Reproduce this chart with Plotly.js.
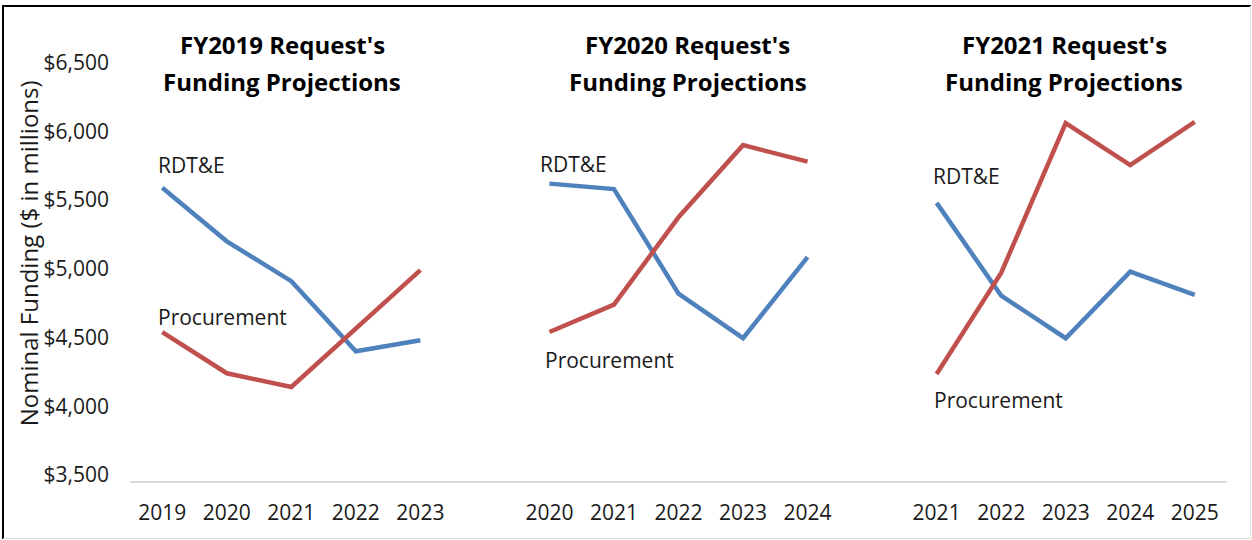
<!DOCTYPE html>
<html>
<head>
<meta charset="utf-8">
<script src="https://cdn.plot.ly/plotly-3.0.1.min.js"></script>
<style>
  html, body { margin: 0; padding: 0; background: #ffffff; }
  #chart { width: 1252px; height: 540px; }
</style>
</head>
<body>
<div id="chart"></div>
<script>
// ---- Data ----
const panelTitles = ["FY2019 Request's", "FY2020 Request's", "FY2021 Request's"];
const panelSubtitle = "Funding Projections";

const years2019 = ["2019", "2020", "2021", "2022", "2023"];
const years2020 = ["2020", "2021", "2022", "2023", "2024"];
const years2021 = ["2021", "2022", "2023", "2024", "2025"];

const rdte2019 = [5590, 5200, 4910, 4400, 4480];
const proc2019 = [4540, 4240, 4140, 4570, 4990];

const rdte2020 = [5620, 5580, 4820, 4495, 5085];
const proc2020 = [4540, 4740, 5375, 5900, 5780];

const rdte2021 = [5480, 4805, 4495, 4980, 4810];
const proc2021 = [4235, 4970, 6060, 5755, 6070];

const yTicks = [3500, 4000, 4500, 5000, 5500, 6000, 6500];
const yTickLabels = ["$3,500", "$4,000", "$4,500", "$5,000", "$5,500", "$6,000", "$6,500"];

const seriesNames = ["RDT&E", "Procurement"];
const yAxisTitle = "Nominal Funding ($ in millions)";

// ---- Build ----
const panels = [
  { years: years2019, rdte: rdte2019, proc: proc2019 },
  { years: years2020, rdte: rdte2020, proc: proc2020 },
  { years: years2021, rdte: rdte2021, proc: proc2021 }
];

const BLUE = "#4f81bd";
const RED = "#c0504d";
const TXT = "#1a1a1a";
const FONT = "Open Sans, Liberation Sans, sans-serif";
const SLOT = 6; // 5 categories + 1 blank slot between panels

const traces = [];
const tickvals = [];
const ticktext = [];
panels.forEach((p, k) => {
  const xs = p.years.map((_, i) => k * SLOT + i);
  xs.forEach((x, i) => { tickvals.push(x); ticktext.push(p.years[i]); });
  traces.push({
    type: "scatter", mode: "lines", x: xs, y: p.rdte, name: seriesNames[0],
    line: { color: BLUE, width: 4.5 }, showlegend: false, hoverinfo: "x+y"
  });
  traces.push({
    type: "scatter", mode: "lines", x: xs, y: p.proc, name: seriesNames[1],
    line: { color: RED, width: 4.5 }, showlegend: false, hoverinfo: "x+y"
  });
});

// layout geometry (pixels)
const W = 1252, H = 540;
const M = { l: 130, r: 25, t: 62, b: 59 };
const PW = W - M.l - M.r, PH = H - M.t - M.b;
const px = v => (v - M.l) / PW;          // pixel x -> paper
const py = v => (H - M.b - v) / PH;      // pixel y -> paper

const annotations = [];
// panel titles (two lines each)
const titleCenters = [1.86, 8.14, 13.98];
panelTitles.forEach((t, k) => {
  annotations.push({
    text: "<b>" + t + "</b>", xref: "x", yref: "paper", x: titleCenters[k], y: py(45),
    xanchor: "center", yanchor: "middle", showarrow: false,
    font: { family: FONT, size: 24, color: "#000000" }
  });
  annotations.push({
    text: "<b>" + panelSubtitle + "</b>", xref: "x", yref: "paper", x: titleCenters[k], y: py(81.7),
    xanchor: "center", yanchor: "middle", showarrow: false,
    font: { family: FONT, size: 24, color: "#000000" }
  });
});

// series labels
const labelPos = [
  { rx: -0.09, ry: 5756, qx: -0.10, qy: 4652 },
  { rx: 5.83, ry: 5761, qx: 5.90, qy: 4337 },
  { rx: 11.91, ry: 5676, qx: 11.93, qy: 4046 }
];
labelPos.forEach(lp => {
  annotations.push({
    text: seriesNames[0], x: lp.rx, y: lp.ry, xref: "x", yref: "y",
    xanchor: "left", yanchor: "middle", showarrow: false,
    font: { family: FONT, size: 21, color: TXT }
  });
  annotations.push({
    text: seriesNames[1], x: lp.qx, y: lp.qy, xref: "x", yref: "y",
    xanchor: "left", yanchor: "middle", showarrow: false,
    font: { family: FONT, size: 21, color: TXT }
  });
});

// y-axis title
annotations.push({
  text: yAxisTitle, xref: "paper", yref: "paper", x: px(28.3), y: py(253),
  xanchor: "center", yanchor: "middle", textangle: -90, showarrow: false,
  font: { family: FONT, size: 24, color: TXT }
});

const shapes = [
  { type: "line", xref: "paper", yref: "paper", x0: px(2), x1: px(1251), y0: py(6), y1: py(6),
    line: { color: "#000000", width: 2 } },
  { type: "line", xref: "paper", yref: "paper", x0: px(3), x1: px(3), y0: py(5), y1: py(539),
    line: { color: "#000000", width: 2 } },
  { type: "line", xref: "paper", yref: "paper", x0: px(3), x1: px(1251), y0: py(538.5), y1: py(538.5),
    line: { color: "#d9d9d9", width: 1 } },
  { type: "line", xref: "paper", yref: "paper", x0: px(1250.5), x1: px(1250.5), y0: py(6), y1: py(539),
    line: { color: "#e6e6e6", width: 1 } }
];

const layout = {
  width: W, height: H,
  margin: M,
  paper_bgcolor: "#ffffff", plot_bgcolor: "#ffffff",
  showlegend: false,
  font: { family: FONT, color: TXT },
  xaxis: {
    type: "linear", range: [-0.5, 16.5],
    tickmode: "array", tickvals: tickvals, ticktext: ticktext,
    showgrid: false, zeroline: false, ticks: "",
    showline: true, linecolor: "#d9d9d9", linewidth: 2,
    tickfont: { family: FONT, size: 21, color: TXT },
    ticklabelstandoff: 12,
    fixedrange: true
  },
  yaxis: {
    range: [3456, 6505],
    tickmode: "array", tickvals: yTicks, ticktext: yTickLabels,
    showgrid: false, zeroline: false, showline: false, ticks: "",
    tickfont: { family: FONT, size: 21, color: TXT },
    ticklabelstandoff: 20,
    fixedrange: true
  },
  annotations: annotations,
  shapes: shapes
};

Plotly.newPlot("chart", traces, layout, { displayModeBar: false, staticPlot: true });
</script>
</body>
</html>
